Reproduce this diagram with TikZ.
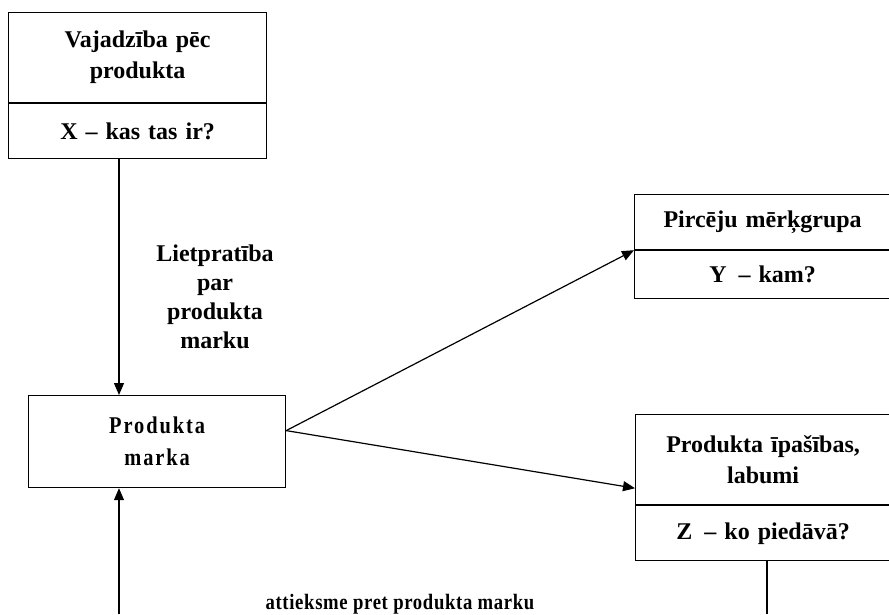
\documentclass[tikz,border=0pt]{standalone}
\usepackage{fontspec}
\setmainfont{Liberation Serif}
\usetikzlibrary{arrows.meta}

\begin{document}
\begin{tikzpicture}[x=1pt, y=-1pt, line width=1.2pt,
		box/.style={draw, fill=white, inner sep=0pt, text width=240pt, align=center, anchor=north west, font=\fontsize{24}{31}\selectfont\bfseries},
		lbl/.style={inner sep=0pt, align=center, font=\fontsize{24}{29}\selectfont\bfseries},
		arr/.style={-{Triangle[length=12pt, width=10pt]}}]
					\useasboundingbox (0,0) rectangle (889,614);
					\node[box, minimum width=258pt, minimum height=90pt] (need) at (8,12) {Vajadzība pēc\\produkta};
					\node[box, minimum width=258pt, minimum height=55pt] (needq) at (need.south west) {X – kas tas ir?};
					\node[box, minimum width=257pt, minimum height=92pt, font=\fontsize{24}{32}\selectfont\bfseries\addfontfeature{FakeStretch=0.85,LetterSpace=8}] (brand) at (28,395) {Produkta\\marka};
					\node[box, minimum width=256pt, minimum height=55pt] (group) at (634,194) {Pircēju mērķgrupa};
					\node[box, minimum width=256pt, minimum height=48pt] (groupq) at (group.south west) {Y\enspace – kam?};
					\node[box, minimum width=255pt, minimum height=90pt] (feature) at (635,414) {Produkta īpašības,\\labumi};
					\node[box, minimum width=255pt, minimum height=55pt] (featureq) at (feature.south west) {Z\enspace – ko piedāvā?};
					\node[lbl] (know) at (215,297) {Lietpratība\\par\\produkta\\marku};
					\node[lbl, font=\fontsize{22}{29}\selectfont\bfseries\addfontfeature{FakeStretch=0.85,LetterSpace=3}] (attitude) at (400,604) {attieksme pret produkta marku};
					\coordinate (axis) at (119,0);
					\coordinate (loopL) at (119,614);
					\coordinate (loopR) at (767,614);
					\coordinate (fork) at ([yshift=11pt]brand.east);
					\draw[arr] (needq.south -| axis) -- (brand.north -| axis);
					\draw[arr] (loopL) -- (brand.south -| axis);
					\draw (featureq.south -| loopR) -- (loopR);
					\draw[arr] (fork) -- (group.south west);
					\draw[arr] (fork) -- ([yshift=17pt]feature.south west);
				\end{tikzpicture}
\end{document}
